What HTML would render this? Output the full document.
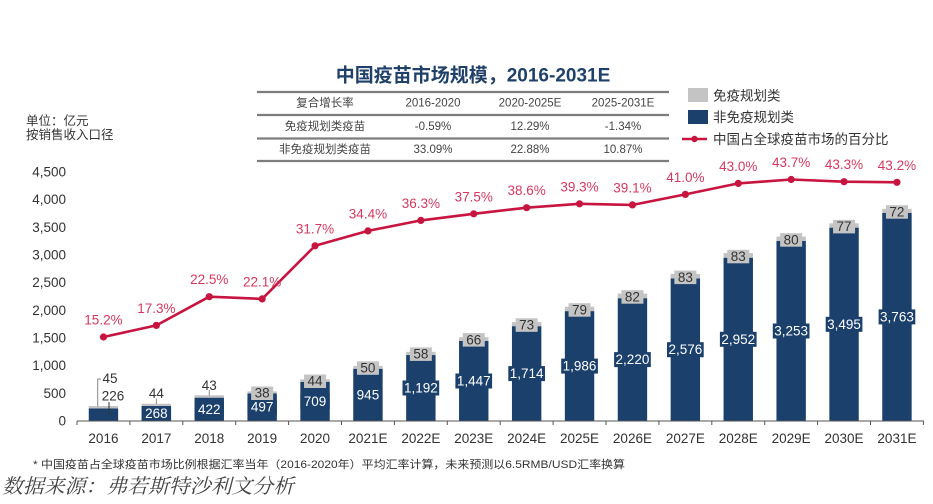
<!DOCTYPE html>
<html><head><meta charset="utf-8"><style>
html,body{margin:0;padding:0;background:#fff;width:933px;height:504px;overflow:hidden;}
svg{display:block;}
text{font-family:"Liberation Sans","Noto Sans CJK SC",sans-serif;}
</style></head><body>
<svg width="933" height="504" viewBox="0 0 933 504" xmlns="http://www.w3.org/2000/svg">
<!-- Title -->
<text x="473" y="76" text-anchor="middle" dominant-baseline="central" font-size="19" font-weight="bold" fill="#1f4068">中国疫苗市场规模，2016-2031E</text>
<!-- Table -->
<g stroke="#7d7d7d" stroke-width="2.2">
<line x1="257" y1="92" x2="669" y2="92"/>
<line x1="257" y1="115" x2="669" y2="115"/>
<line x1="257" y1="138.5" x2="669" y2="138.5"/>
<line x1="257" y1="161" x2="669" y2="161"/>
</g>
<g font-size="11.5" fill="#444" text-anchor="middle" dominant-baseline="central">
<text x="325" y="103.5">复合增长率</text>
<text x="433" y="103.5">2016-2020</text>
<text x="530" y="103.5">2020-2025E</text>
<text x="623" y="103.5">2025-2031E</text>
<text x="325" y="127">免疫规划类疫苗</text>
<text x="433" y="127">-0.59%</text>
<text x="530" y="127">12.29%</text>
<text x="623" y="127">-1.34%</text>
<text x="325" y="150">非免疫规划类疫苗</text>
<text x="433" y="150">33.09%</text>
<text x="530" y="150">22.88%</text>
<text x="623" y="150">10.87%</text>
</g>
<!-- Legend -->
<rect x="688" y="88" width="20" height="14" fill="#c4c4c4"/>
<text x="713" y="96" font-size="13.5" fill="#333" dominant-baseline="central">免疫规划类</text>
<rect x="688" y="110" width="20" height="14" fill="#1b406b"/>
<text x="713" y="117.5" font-size="13.5" fill="#333" dominant-baseline="central">非免疫规划类</text>
<line x1="682" y1="139" x2="707" y2="139" stroke="#c8153f" stroke-width="2.5"/>
<circle cx="694.5" cy="139" r="3.2" fill="#c8153f"/>
<text x="713" y="139.5" font-size="13.5" fill="#333" dominant-baseline="central">中国占全球疫苗市场的百分比</text>
<!-- unit -->
<text x="26" y="121" font-size="12.5" fill="#333" dominant-baseline="central">单位：亿元</text>
<text x="26" y="135" font-size="12.5" fill="#333" dominant-baseline="central">按销售收入口径</text>
<!-- Y ticks -->
<g font-size="13.5" fill="#333" text-anchor="end" dominant-baseline="central">
<text x="66" y="172">4,500</text>
<text x="66" y="199.7">4,000</text>
<text x="66" y="227.3">3,500</text>
<text x="66" y="255">3,000</text>
<text x="66" y="282.7">2,500</text>
<text x="66" y="310.3">2,000</text>
<text x="66" y="338">1,500</text>
<text x="66" y="365.7">1,000</text>
<text x="66" y="393.3">500</text>
<text x="66" y="421">0</text>
</g>
<!-- Bars -->
<g fill="#1b406b">
<rect x="88.75" y="408.5" width="29.4" height="12.5"/>
<rect x="141.65" y="406.17" width="29.4" height="14.83"/>
<rect x="194.55" y="397.65" width="29.4" height="23.35"/>
<rect x="247.45" y="393.5" width="29.4" height="27.5"/>
<rect x="300.35" y="381.77" width="29.4" height="39.23"/>
<rect x="353.25" y="368.71" width="29.4" height="52.29"/>
<rect x="406.15" y="355.05" width="29.4" height="65.95"/>
<rect x="459.05" y="340.94" width="29.4" height="80.06"/>
<rect x="511.95" y="326.16" width="29.4" height="94.84"/>
<rect x="564.85" y="311.11" width="29.4" height="109.89"/>
<rect x="617.75" y="298.17" width="29.4" height="122.83"/>
<rect x="670.65" y="278.47" width="29.4" height="142.53"/>
<rect x="723.55" y="257.67" width="29.4" height="163.33"/>
<rect x="776.45" y="241.01" width="29.4" height="179.99"/>
<rect x="829.35" y="227.62" width="29.4" height="193.38"/>
<rect x="882.25" y="212.79" width="29.4" height="208.21"/>
</g>
<g fill="#c4c4c4">
<rect x="88.75" y="406.01" width="29.4" height="2.49"/>
<rect x="141.65" y="403.74" width="29.4" height="2.43"/>
<rect x="194.55" y="395.27" width="29.4" height="2.38"/>
<rect x="247.45" y="391.4" width="29.4" height="2.1"/>
<rect x="300.35" y="379.34" width="29.4" height="2.43"/>
<rect x="353.25" y="365.94" width="29.4" height="2.77"/>
<rect x="406.15" y="351.84" width="29.4" height="3.21"/>
<rect x="459.05" y="337.29" width="29.4" height="3.65"/>
<rect x="511.95" y="322.12" width="29.4" height="4.04"/>
<rect x="564.85" y="306.74" width="29.4" height="4.37"/>
<rect x="617.75" y="293.63" width="29.4" height="4.54"/>
<rect x="670.65" y="273.88" width="29.4" height="4.59"/>
<rect x="723.55" y="253.08" width="29.4" height="4.59"/>
<rect x="776.45" y="236.58" width="29.4" height="4.43"/>
<rect x="829.35" y="223.36" width="29.4" height="4.26"/>
<rect x="882.25" y="208.81" width="29.4" height="3.98"/>
</g>
<!-- leader lines for small years -->
<g stroke="#888" stroke-width="1" fill="none">
<polyline points="101,379 97.7,379 97.7,406.5"/>
<line x1="109" y1="402" x2="109" y2="415" stroke="#333"/>
<line x1="156.35" y1="398.5" x2="156.35" y2="404"/>
<line x1="209.25" y1="390" x2="209.25" y2="395.5"/>
</g>
<g font-size="13.5" fill="#333" text-anchor="middle" dominant-baseline="central">
<text x="110" y="378.5">45</text>
<text x="113" y="396">226</text>
<text x="156.35" y="393.5">44</text>
<text x="209.25" y="385.5">43</text>
</g>
<!-- navy label boxes -->
<g fill="#1b406b">
<rect x="141.65" y="406" width="29.4" height="15"/>
<rect x="194.55" y="401.8" width="29.4" height="15"/>
<rect x="247.45" y="399.7" width="29.4" height="15"/>
<rect x="300.35" y="393.9" width="29.4" height="15"/>
<rect x="402.5" y="380.5" width="36.7" height="15"/>
<rect x="455.4" y="373.5" width="36.7" height="15"/>
<rect x="508.3" y="366.1" width="36.7" height="15"/>
<rect x="561.2" y="358.6" width="36.7" height="15"/>
<rect x="614.1" y="352.1" width="36.7" height="15"/>
<rect x="667" y="342.2" width="36.7" height="15"/>
<rect x="719.9" y="331.8" width="36.7" height="15"/>
<rect x="772.8" y="323.5" width="36.7" height="15"/>
<rect x="825.7" y="316.8" width="36.7" height="15"/>
<rect x="878.6" y="309.4" width="36.7" height="15"/>
</g>
<g font-size="13.5" fill="#fff" text-anchor="middle" dominant-baseline="central">
<text x="156.35" y="413.6">268</text>
<text x="209.25" y="409.3">422</text>
<text x="262.15" y="407.2">497</text>
<text x="315.05" y="401.4">709</text>
<text x="367.95" y="395">945</text>
<text x="420.85" y="388">1,192</text>
<text x="473.75" y="381">1,447</text>
<text x="526.65" y="373.6">1,714</text>
<text x="579.55" y="366.1">1,986</text>
<text x="632.45" y="359.6">2,220</text>
<text x="685.35" y="349.7">2,576</text>
<text x="738.25" y="339.3">2,952</text>
<text x="791.15" y="331">3,253</text>
<text x="844.05" y="324.3">3,495</text>
<text x="896.95" y="316.9">3,763</text>
</g>
<!-- gray label boxes -->
<g fill="#c4c4c4">
<rect x="251.15" y="386.5" width="22" height="13.5"/>
<rect x="304.05" y="374.5" width="22" height="13.5"/>
<rect x="356.95" y="361.3" width="22" height="13.5"/>
<rect x="409.85" y="347.4" width="22" height="13.5"/>
<rect x="462.75" y="333.1" width="22" height="13.5"/>
<rect x="515.65" y="318.3" width="22" height="13.5"/>
<rect x="568.55" y="303.2" width="22" height="13.5"/>
<rect x="621.45" y="290.2" width="22" height="13.5"/>
<rect x="674.35" y="270.6" width="22" height="13.5"/>
<rect x="727.25" y="249.8" width="22" height="13.5"/>
<rect x="780.15" y="233.2" width="22" height="13.5"/>
<rect x="833.05" y="219.9" width="22" height="13.5"/>
<rect x="885.95" y="205.2" width="22" height="13.5"/>
</g>
<g font-size="13.5" fill="#333" text-anchor="middle" dominant-baseline="central">
<text x="262.15" y="393.2">38</text>
<text x="315.05" y="381.2">44</text>
<text x="367.95" y="368">50</text>
<text x="420.85" y="354.1">58</text>
<text x="473.75" y="339.8">66</text>
<text x="526.65" y="325">73</text>
<text x="579.55" y="309.9">79</text>
<text x="632.45" y="296.9">82</text>
<text x="685.35" y="277.3">83</text>
<text x="738.25" y="256.5">83</text>
<text x="791.15" y="239.9">80</text>
<text x="844.05" y="226.6">77</text>
<text x="896.95" y="211.9">72</text>
</g>
<!-- X axis -->
<g stroke="#555" stroke-width="1">
<line x1="77" y1="421" x2="924" y2="421"/>
<line x1="77" y1="421" x2="77" y2="425"/>
<line x1="129.9" y1="421" x2="129.9" y2="425"/>
<line x1="182.8" y1="421" x2="182.8" y2="425"/>
<line x1="235.7" y1="421" x2="235.7" y2="425"/>
<line x1="288.6" y1="421" x2="288.6" y2="425"/>
<line x1="341.5" y1="421" x2="341.5" y2="425"/>
<line x1="394.4" y1="421" x2="394.4" y2="425"/>
<line x1="447.3" y1="421" x2="447.3" y2="425"/>
<line x1="500.2" y1="421" x2="500.2" y2="425"/>
<line x1="553.1" y1="421" x2="553.1" y2="425"/>
<line x1="606" y1="421" x2="606" y2="425"/>
<line x1="658.9" y1="421" x2="658.9" y2="425"/>
<line x1="711.8" y1="421" x2="711.8" y2="425"/>
<line x1="764.7" y1="421" x2="764.7" y2="425"/>
<line x1="817.6" y1="421" x2="817.6" y2="425"/>
<line x1="870.5" y1="421" x2="870.5" y2="425"/>
<line x1="923.4" y1="421" x2="923.4" y2="425"/>
</g>
<g font-size="13.5" fill="#333" text-anchor="middle" dominant-baseline="central">
<text x="103.45" y="438.5">2016</text>
<text x="156.35" y="438.5">2017</text>
<text x="209.25" y="438.5">2018</text>
<text x="262.15" y="438.5">2019</text>
<text x="315.05" y="438.5">2020</text>
<text x="367.95" y="438.5">2021E</text>
<text x="420.85" y="438.5">2022E</text>
<text x="473.75" y="438.5">2023E</text>
<text x="526.65" y="438.5">2024E</text>
<text x="579.55" y="438.5">2025E</text>
<text x="632.45" y="438.5">2026E</text>
<text x="685.35" y="438.5">2027E</text>
<text x="738.25" y="438.5">2028E</text>
<text x="791.15" y="438.5">2029E</text>
<text x="844.05" y="438.5">2030E</text>
<text x="896.95" y="438.5">2031E</text>
</g>
<!-- Line series -->
<polyline fill="none" stroke="#c8153f" stroke-width="2.6" stroke-linejoin="round" points="103.45,337 156.35,325.4 209.25,296.7 262.15,298.9 315.05,245.8 367.95,230.9 420.85,220.4 473.75,213.8 526.65,207.7 579.55,203.8 632.45,204.9 685.35,194.4 738.25,183.4 791.15,179.5 844.05,181.7 896.95,182.3"/>
<g fill="#c8153f">
<circle cx="103.45" cy="337" r="3.6"/>
<circle cx="156.35" cy="325.4" r="3.6"/>
<circle cx="209.25" cy="296.7" r="3.6"/>
<circle cx="262.15" cy="298.9" r="3.6"/>
<circle cx="315.05" cy="245.8" r="3.6"/>
<circle cx="367.95" cy="230.9" r="3.6"/>
<circle cx="420.85" cy="220.4" r="3.6"/>
<circle cx="473.75" cy="213.8" r="3.6"/>
<circle cx="526.65" cy="207.7" r="3.6"/>
<circle cx="579.55" cy="203.8" r="3.6"/>
<circle cx="632.45" cy="204.9" r="3.6"/>
<circle cx="685.35" cy="194.4" r="3.6"/>
<circle cx="738.25" cy="183.4" r="3.6"/>
<circle cx="791.15" cy="179.5" r="3.6"/>
<circle cx="844.05" cy="181.7" r="3.6"/>
<circle cx="896.95" cy="182.3" r="3.6"/>
</g>
<g font-size="13.5" fill="#d6385f" text-anchor="middle" dominant-baseline="central">
<text x="103.45" y="320">15.2%</text>
<text x="156.35" y="308.4">17.3%</text>
<text x="209.25" y="279.7">22.5%</text>
<text x="262.15" y="281.9">22.1%</text>
<text x="315.05" y="228.8">31.7%</text>
<text x="367.95" y="213.9">34.4%</text>
<text x="420.85" y="203.4">36.3%</text>
<text x="473.75" y="196.8">37.5%</text>
<text x="526.65" y="190.7">38.6%</text>
<text x="579.55" y="186.8">39.3%</text>
<text x="632.45" y="187.9">39.1%</text>
<text x="685.35" y="177.4">41.0%</text>
<text x="738.25" y="166.4">43.0%</text>
<text x="791.15" y="162.5">43.7%</text>
<text x="844.05" y="164.7">43.3%</text>
<text x="896.95" y="165.3">43.2%</text>
</g>
<!-- Footnote -->
<text x="33" y="465" font-size="11" fill="#333" dominant-baseline="central" textLength="592" lengthAdjust="spacingAndGlyphs">* 中国疫苗占全球疫苗市场比例根据汇率当年（2016-2020年）平均汇率计算，未来预测以6.5RMB/USD汇率换算</text>
<text x="2" y="487" font-size="20" fill="#444" font-style="italic" dominant-baseline="central" style="font-family:'Liberation Serif','Noto Serif CJK SC',serif" textLength="292" lengthAdjust="spacingAndGlyphs">数据来源：弗若斯特沙利文分析</text>
</svg>
</body></html>
